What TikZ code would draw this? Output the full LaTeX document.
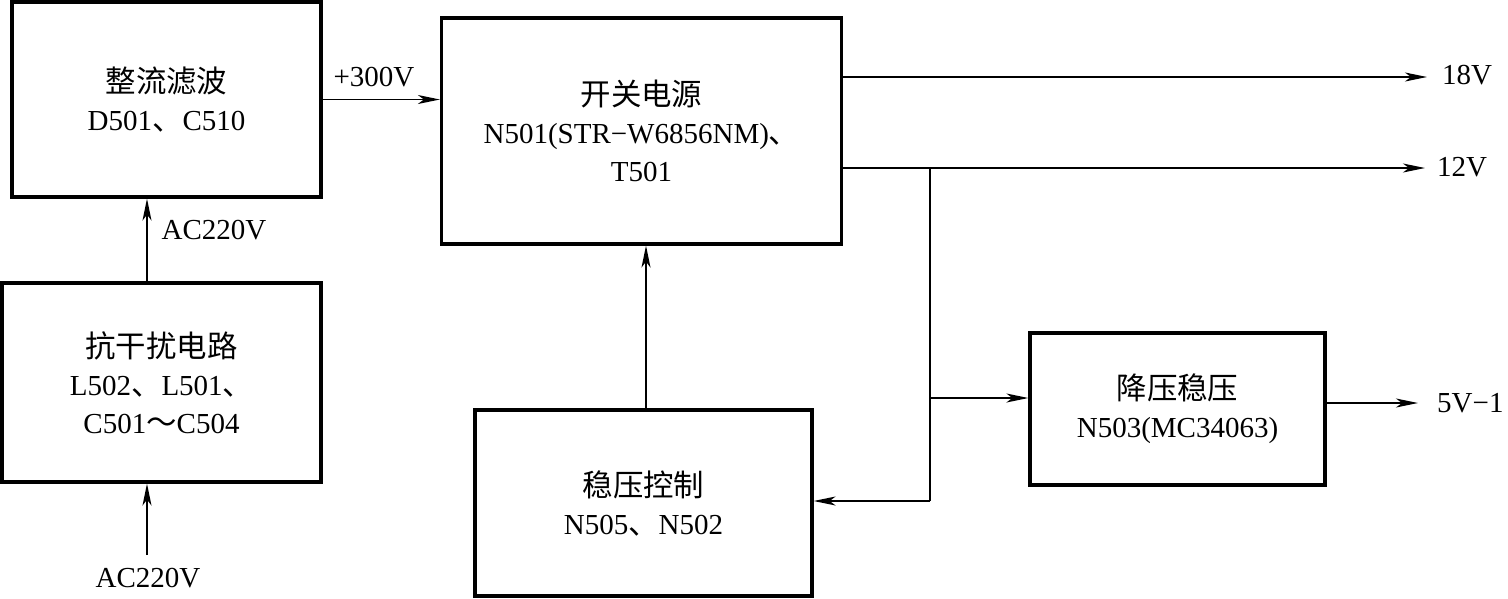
\documentclass[tikz,border=0pt]{standalone}
\usepackage{fontspec}
\setmainfont{Liberation Serif}
\newfontfamily\cjk{Noto Sans CJK SC}[Scale=1.05]
\usetikzlibrary{arrows.meta}
\begin{document}
\begin{tikzpicture}[x=1pt,y=-1pt,
  blk/.style={draw, line width=3.2pt, align=center, inner sep=0pt,
    font=\fontsize{29}{38}\selectfont},
  lbl/.style={inner sep=0pt, font=\fontsize{29}{32}\selectfont},
  wire/.style={line width=1.6pt},
  conn/.style={line width=1.6pt, -{Stealth[length=22pt,width=9pt,inset=6pt]}}]
\useasboundingbox (0,0) rectangle (1508,598);
% boxes
\node[blk, minimum width=309pt, minimum height=195pt] (A) at (166.5,99.5)
  {{\cjk 整流滤波}\\D501{\cjk 、}C510};
\node[blk, minimum width=400pt, minimum height=226pt] (B) at (641.5,131)
  {{\cjk 开关电源}\\N501(STR−W6856NM){\cjk 、}\\T501};
\node[blk, minimum width=319pt, minimum height=199pt] (C) at (161.5,382.5)
  {{\cjk 抗干扰电路}\\L502{\cjk 、}L501{\cjk 、}\\C501{\cjk ～}C504};
\node[blk, minimum width=337pt, minimum height=186pt] (D) at (643.5,503)
  {{\cjk 稳压控制}\\N505{\cjk 、}N502};
\node[blk, minimum width=295pt, minimum height=152pt] (E) at (1177.5,409)
  {{\cjk 降压稳压}\\N503(MC34063)};
% coordinates
\coordinate (xa) at (147,0);
\coordinate (acin) at (147,555);
\coordinate (xd) at (646,0);
\coordinate (o18) at (1427,77);
\coordinate (o12) at (1425,168);
\coordinate (j) at (930,168);
\coordinate (jm) at (930,398);
\coordinate (jb) at (930,501);
\coordinate (o5) at (1418,403);
% connectors
\draw[conn] (A.east) -- (A.east -| B.west);
\draw[conn] (C.north -| xa) -- (A.south -| xa);
\draw[conn] (acin) -- (acin |- C.south);
\draw[conn] (D.north -| xd) -- (B.south -| xd);
\draw[conn] (o18 -| B.east) -- (o18);
\draw[conn] (o12 -| B.east) -- (o12);
\draw[wire] (j) -- (jb);
\draw[conn] (jm) -- (jm -| E.west);
\draw[conn] (jb) -- (jb -| D.east);
\draw[conn] (o5 -| E.east) -- (o5);
% labels
\node[lbl] (l300) at (374,77) {+300V};
\node[lbl] (lac1) at (214,230) {AC220V};
\node[lbl] (lac2) at (148,578) {AC220V};
\node[lbl] (l18) at (1467,75) {18V};
\node[lbl] (l12) at (1462,167) {12V};
\node[lbl, anchor=west] (l5) at (1437,403) {5V−1};
\end{tikzpicture}
\end{document}
